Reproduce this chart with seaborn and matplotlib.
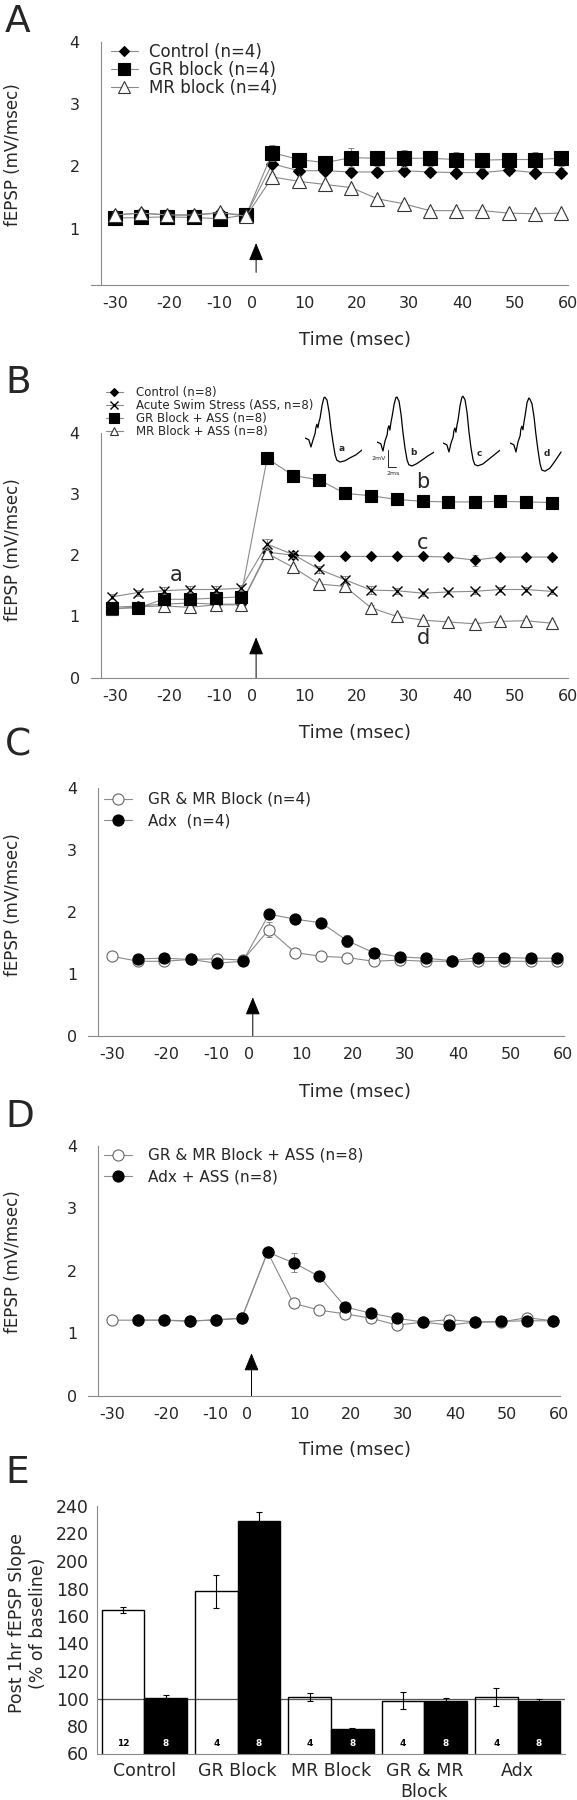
import matplotlib
matplotlib.use("Agg")
import pandas as pd
import matplotlib.pyplot as plt
import seaborn as sns

sns.set_style("white")
plt.rcParams['font.family'] = ['DejaVu Sans']

# ---------------- data ----------------
# panels A, C, D sample times (min, plotted on the original's stretched axis)
time_a = [-30, -25, -20, -15, -10, -5, 0, 5, 10, 15, 20, 25, 30, 35, 40, 45, 50, 55]
time_b = [-30.5, -25.6, -20.7, -15.7, -10.8, -6, -1, 4, 8.9, 13.8, 18.8, 23.7, 28.7, 33.5, 38.5, 43.4, 48.3, 53.2]
tick_pos = [-30, -19.6, -10.1, -3.9, 6.2, 16.1, 26.0, 36.2, 46.2, 56.3]
tick_lab = ["-30", "-20", "-10", "0", "10", "20", "30", "40", "50", "60"]

# Panel A
ctrl_a = [1.22, 1.25, 1.22, 1.22, 1.25, 1.22, 2.04, 1.93, 1.93, 1.91, 1.91, 1.93, 1.91, 1.90, 1.90, 1.94, 1.90, 1.90]
ctrl_a_err = [0.04, 0.05, 0.04, 0.04, 0.05, 0.04, 0.06, 0.06, 0.05, 0.06, 0.06, 0.07, 0.06, 0.06, 0.06, 0.06, 0.06, 0.07]
gr_a = [1.17, 1.18, 1.19, 1.18, 1.16, 1.22, 2.22, 2.11, 2.06, 2.14, 2.13, 2.13, 2.13, 2.11, 2.10, 2.11, 2.11, 2.13]
gr_a_err = [0.05, 0.06, 0.05, 0.05, 0.05, 0.06, 0.13, 0.08, 0.08, 0.15, 0.12, 0.14, 0.12, 0.12, 0.12, 0.11, 0.12, 0.12]
mr_a = [1.22, 1.25, 1.22, 1.22, 1.26, 1.20, 1.83, 1.76, 1.71, 1.66, 1.48, 1.40, 1.29, 1.29, 1.29, 1.25, 1.24, 1.25]
mr_a_err = [0.04, 0.04, 0.04, 0.03, 0.04, 0.03, 0.04, 0.04, 0.03, 0.03, 0.03, 0.03, 0.03, 0.02, 0.02, 0.02, 0.02, 0.02]

# Panel B
ctrl_b = [1.15, 1.17, 1.20, 1.22, 1.20, 1.20, 2.05, 2.00, 1.98, 1.98, 1.98, 1.98, 1.98, 1.97, 1.92, 1.97, 1.97, 1.97]
ctrl_b_err = [0.04, 0.04, 0.04, 0.04, 0.04, 0.04, 0.05, 0.04, 0.04, 0.04, 0.04, 0.04, 0.04, 0.04, 0.09, 0.04, 0.04, 0.05]
ass_b = [1.32, 1.39, 1.42, 1.44, 1.44, 1.46, 2.18, 2.01, 1.77, 1.60, 1.43, 1.42, 1.38, 1.40, 1.41, 1.44, 1.44, 1.41]
ass_b_err = [0.04, 0.05, 0.06, 0.06, 0.06, 0.05, 0.09, 0.05, 0.06, 0.06, 0.06, 0.05, 0.04, 0.04, 0.04, 0.04, 0.04, 0.04]
gr_b = [1.13, 1.14, 1.28, 1.28, 1.30, 1.32, 3.58, 3.30, 3.23, 3.01, 2.97, 2.91, 2.88, 2.87, 2.87, 2.88, 2.87, 2.86]
gr_b_err = [0.04, 0.04, 0.05, 0.05, 0.05, 0.05, 0.05, 0.06, 0.05, 0.07, 0.10, 0.05, 0.04, 0.04, 0.04, 0.04, 0.04, 0.05]
mr_b = [1.12, 1.16, 1.17, 1.15, 1.19, 1.19, 2.03, 1.80, 1.53, 1.49, 1.14, 1.00, 0.94, 0.91, 0.88, 0.92, 0.93, 0.89]
mr_b_err = [0.03, 0.03, 0.03, 0.03, 0.03, 0.03, 0.05, 0.04, 0.04, 0.04, 0.05, 0.04, 0.03, 0.03, 0.03, 0.03, 0.03, 0.03]

# Panel C
grmr_c = [1.28, 1.20, 1.20, 1.23, 1.24, 1.22, 1.71, 1.34, 1.28, 1.26, 1.20, 1.22, 1.20, 1.20, 1.20, 1.20, 1.20, 1.20]
grmr_c_err = [0.03, 0.04, 0.03, 0.03, 0.03, 0.03, 0.12, 0.04, 0.03, 0.03, 0.03, 0.03, 0.03, 0.03, 0.03, 0.03, 0.03, 0.03]
adx_c = [1.24, 1.25, 1.23, 1.17, 1.20, 1.96, 1.88, 1.82, 1.53, 1.34, 1.27, 1.25, 1.21, 1.26, 1.26, 1.25, 1.25]
adx_c_err = [0.05, 0.04, 0.04, 0.04, 0.04, 0.04, 0.05, 0.07, 0.10, 0.08, 0.05, 0.04, 0.03, 0.04, 0.04, 0.04, 0.04]

# Panel D
grmr_d = [1.21, 1.21, 1.21, 1.20, 1.21, 1.24, 2.30, 1.48, 1.37, 1.31, 1.24, 1.13, 1.18, 1.22, 1.18, 1.18, 1.25, 1.20]
grmr_d_err = [0.03, 0.03, 0.03, 0.03, 0.03, 0.03, 0.06, 0.05, 0.04, 0.03, 0.03, 0.03, 0.03, 0.03, 0.03, 0.03, 0.03, 0.03]
adx_d = [1.21, 1.21, 1.19, 1.22, 1.24, 2.30, 2.13, 1.91, 1.42, 1.32, 1.24, 1.18, 1.13, 1.18, 1.19, 1.20, 1.20]
adx_d_err = [0.03, 0.03, 0.03, 0.03, 0.03, 0.08, 0.15, 0.05, 0.05, 0.04, 0.04, 0.03, 0.03, 0.03, 0.03, 0.03, 0.03]

# Example fEPSP traces (ms, mV) shown in panel B
trace_ms = [0, 1.1, 1.7, 2.3, 2.9, 3.1, 3.4, 3.7, 4.0, 4.3, 4.9, 5.4, 5.7, 6.3, 6.9, 7.4, 8.0, 8.6, 9.1, 10.0, 11.4, 12.9, 14.6, 16.3]
trace_a = [0, -0.3, -1.5, -0.3, 0.8, 1.7, 2.3, 1.7, 2.7, 3.3, 5.5, 6.7, 6.8, 6.3, 4.3, 1.7, -0.7, -2.8, -3.7, -4.0, -3.8, -3.3, -2.8, -2.0]
trace_b = [0, -0.3, -1.5, 0.2, 1.2, 2.2, 2.7, 2.0, 3.3, 4.2, 6.3, 7.4, 7.5, 6.8, 4.5, 1.7, -1.0, -3.0, -3.8, -4.0, -3.6, -3.0, -2.3, -1.7]
trace_c = [0, -0.3, -1.5, 0.0, 1.0, 2.0, 2.5, 1.8, 3.0, 3.8, 6.3, 7.6, 7.8, 7.2, 5.0, 2.0, -0.8, -2.8, -3.6, -3.8, -3.5, -2.8, -2.0, -1.2]
trace_d = [0, -0.3, -1.5, 0.2, 1.2, 2.3, 2.8, 2.2, 3.5, 4.5, 6.8, 7.5, 7.3, 6.5, 4.2, 1.5, -1.2, -3.5, -4.5, -4.7, -4.2, -3.0, -1.5]

# Panel E
groups = ["Control", "GR Block", "MR Block", "GR & MR\nBlock", "Adx"]
conditions = ["Unstressed", "ASS"]
slope_ctl = [164.4, 178.1, 101.0, 98.4, 101.3]
slope_ctl_err = [2.5, 12.0, 3.0, 6.0, 6.5]
slope_ass = [100.6, 228.9, 77.6, 98.2, 98.2]
slope_ass_err = [2.0, 6.5, 1.2, 2.2, 1.2]
n_ctl = [12, 4, 4, 4, 4]
n_ass = [8, 8, 8, 8, 8]

# ---------------- layout ----------------
W, H = 577, 1800
fig = plt.figure(figsize=(W / 100, H / 100), dpi=100)
GREY = '#8a8a8a'


def px_rect(left, top, right, bottom):
    return [left / W, 1 - bottom / H, (right - left) / W, (bottom - top) / H]


def style_time_ax(ax, ymin, yticks):
    ax.set_xlim(-34.6, 56.3)
    ax.set_ylim(ymin, 4)
    ax.spines[['top', 'right']].set_visible(False)
    ax.spines['left'].set_position(('data', -32.7))
    for s in ['left', 'bottom']:
        ax.spines[s].set_color(GREY)
        ax.spines[s].set_linewidth(0.8)
    ax.set_xticks(tick_pos, tick_lab)
    ax.set_yticks(yticks)
    ax.tick_params(axis='x', length=3, width=0.6, color=GREY, labelsize=11.5, pad=5, direction='out')
    ax.tick_params(axis='y', length=3, width=0.6, color=GREY, labelsize=11.5, pad=12, direction='out')
    ax.set_xlabel("")
    ax.set_ylabel("")


def series(ax, x, y, err, marker, ms, face, edge, z, lcolor=GREY, mew=0.8):
    ax.errorbar(x, y, yerr=err, fmt='none', ecolor='#777777', elinewidth=0.6,
                capsize=2, capthick=0.6, zorder=z - 0.5)
    sns.lineplot(x=x, y=y, ax=ax, color=lcolor, linewidth=0.8, marker=marker,
                 markersize=ms, markerfacecolor=face, markeredgecolor=edge,
                 markeredgewidth=mew, zorder=z)
    return ax.lines[-1]


def arrow(ax, apex, bottom):
    ax.annotate('', xy=(-3.1, apex), xytext=(-3.1, bottom),
                arrowprops=dict(arrowstyle='-|>,head_length=1.1,head_width=0.45',
                                color='black', lw=0.7, mutation_scale=10, shrinkA=0, shrinkB=0))


def legend(ax, handles, labels, left, top, fs, hl, pad, ls, mscale=1.0):
    ax.legend(handles, labels, loc='upper left', bbox_to_anchor=(left / W, 1 - top / H),
              bbox_transform=fig.transFigure, frameon=False, fontsize=fs,
              handlelength=hl, handletextpad=pad, labelspacing=ls, borderpad=0,
              borderaxespad=0, numpoints=1, markerscale=mscale)


# ---- Panel A ----
axA = fig.add_axes(px_rect(90.7, 41.7, 568, 284.8))
hA = [series(axA, time_a, ctrl_a, ctrl_a_err, 'D', 6.5, 'black', 'black', 3),
      series(axA, time_a, gr_a, gr_a_err, 's', 9.5, 'black', 'black', 4),
      series(axA, time_a, mr_a, mr_a_err, '^', 9.5, 'white', '#333333', 5)]
style_time_ax(axA, 0.1, [1, 2, 3, 4])
arrow(axA, 0.77, 0.30)
legend(axA, hA, ["Control (n=4)", "GR block (n=4)", "MR block (n=4)"], 111, 43, 12, 1.6, 0.7, 0.0,
       mscale=0.85)

# ---- Panel B ----
axB = fig.add_axes(px_rect(90.7, 432.7, 568, 677.7))
hB = [series(axB, time_b, ctrl_b, ctrl_b_err, 'D', 5.5, 'black', 'black', 3),
      series(axB, time_b, ass_b, ass_b_err, 'x', 7, 'black', 'black', 6, mew=1.0),
      series(axB, time_b, gr_b, gr_b_err, 's', 8.5, 'black', 'black', 5),
      series(axB, time_b, mr_b, mr_b_err, '^', 8, 'white', '#333333', 4)]
style_time_ax(axB, 0, [0, 1, 2, 3, 4])
arrow(axB, 0.66, 0.0)
legend(axB, hB, ["Control (n=8)", "Acute Swim Stress (ASS, n=8)", "GR Block + ASS (n=8)",
                 "MR Block + ASS (n=8)"], 106, 386, 8.5, 1.4, 1.1, 0.0, mscale=0.8)
for lab, x, y in [("a", -18.4, 1.68), ("b", 28.6, 3.2), ("c", 28.7, 2.2), ("d", 28.7, 0.65)]:
    axB.text(x, y, lab, fontsize=15, ha='center', va='center')

# example traces
trace_sets = [(trace_a, "a", 305, 438), (trace_b, "b", 377, 442),
              (trace_c, "c", 443, 443), (trace_d, "d", 510, 443)]
for vals, lab, x0, y0 in trace_sets:
    tax = fig.add_axes(px_rect(x0, y0 - 48, x0 + 57, y0 + 30))
    sns.lineplot(x=trace_ms[:len(vals)], y=vals, ax=tax, color='black', linewidth=0.9)
    tax.set_xlim(0, 16.3)
    tax.set_ylim(-5, 8)
    tax.axis('off')
    tax.text(10.5, -1.7, lab, fontsize=6.5, fontweight='bold', ha='center', va='center')
    if lab == "b":
        tax.plot([3.1, 3.1, 5.4], [-1.33, -4.17, -4.17], color='black', lw=0.6, clip_on=False)
        tax.text(2.6, -2.8, "2mV", fontsize=4.5, ha='right', va='center')
        tax.text(4.6, -5.2, "2ms", fontsize=4.5, ha='center', va='center', clip_on=False)

# ---- Panel C ----
axC = fig.add_axes(px_rect(88, 787.7, 563.5, 1035.7))
hC = [series(axC, time_a, grmr_c, grmr_c_err, 'o', 8, 'white', '#666666', 3),
      series(axC, time_a[1:], adx_c, adx_c_err, 'o', 8, 'black', 'black', 4)]
style_time_ax(axC, 0, [0, 1, 2, 3, 4])
arrow(axC, 0.62, 0.0)
legend(axC, hC, ["GR & MR Block (n=4)", "Adx  (n=4)"], 104, 792, 11, 1.8, 1.1, 0.4)

# ---- Panel D ----
axD = fig.add_axes(px_rect(88.2, 1146, 559.5, 1395.7))
hD = [series(axD, time_a, grmr_d, grmr_d_err, 'o', 8, 'white', '#666666', 3),
      series(axD, time_a[1:], adx_d, adx_d_err, 'o', 8, 'black', 'black', 4)]
style_time_ax(axD, 0, [0, 1, 2, 3, 4])
arrow(axD, 0.68, 0.0)
legend(axD, hD, ["GR & MR Block + ASS (n=8)", "Adx + ASS (n=8)"], 104, 1148, 11, 1.8, 1.1, 0.4)

# ---- Panel E ----
axE = fig.add_axes(px_rect(97.3, 1506, 565, 1753.5))
bars = pd.DataFrame({
    "group": groups * 2,
    "cond": [conditions[0]] * 5 + [conditions[1]] * 5,
    "slope": slope_ctl + slope_ass,
})
sns.barplot(data=bars, x="group", y="slope", hue="cond", order=groups, hue_order=conditions,
            palette=['white', 'black'], edgecolor='black', linewidth=1.0, width=0.915,
            gap=0, errorbar=None, legend=False, ax=axE, zorder=2)
axE.axhline(100, color='#555555', lw=0.9, zorder=1)
for cont, vals, errs, ns, tcol in [(axE.containers[0], slope_ctl, slope_ctl_err, n_ctl, 'black'),
                                   (axE.containers[1], slope_ass, slope_ass_err, n_ass, 'white')]:
    for bar, v, e, n in zip(cont, vals, errs, ns):
        xc = bar.get_x() + bar.get_width() / 2
        if tcol == 'black':
            bar.set_facecolor('none')
        axE.errorbar([xc], [v], yerr=[e], fmt='none', ecolor='black', elinewidth=0.8,
                     capsize=2.5, capthick=0.8, zorder=4)
        axE.text(xc, 67.4, str(n), fontsize=6.5, fontweight='bold', color=tcol,
                 ha='center', va='center', zorder=5)
axE.set_ylim(60, 240)
axE.set_yticks(range(60, 241, 20))
axE.set_xlim(-0.505, 4.508)
axE.spines[['top', 'right']].set_visible(False)
for s in ['left', 'bottom']:
    axE.spines[s].set_color(GREY)
    axE.spines[s].set_linewidth(0.8)
axE.tick_params(axis='y', length=3, width=0.6, color=GREY, labelsize=12.5, pad=3)
axE.tick_params(axis='x', length=0, labelsize=12.5, pad=6)
axE.set_xlabel("")
axE.set_ylabel("")

# ---------------- text ----------------
for letter, y in [("A", 32), ("B", 393), ("C", 756), ("D", 1127), ("E", 1483)]:
    fig.text(5 / W, 1 - y / H, letter, fontsize=27, ha='left', va='baseline')
for y in [340, 733, 1092, 1450]:
    fig.text(355 / W, 1 - y / H, "Time (msec)", fontsize=13, ha='center', va='center')
for y in [155, 550, 905, 1262]:
    fig.text(13 / W, 1 - y / H, "fEPSP (mV/msec)", fontsize=12, rotation=90,
             ha='center', va='center')
fig.text(27.5 / W, 1 - 1623 / H, "Post 1hr fEPSP Slope\n(% of baseline)", fontsize=12.5,
         rotation=90, ha='center', va='center', linespacing=1.25)

fig.savefig("out.png", dpi=100)
